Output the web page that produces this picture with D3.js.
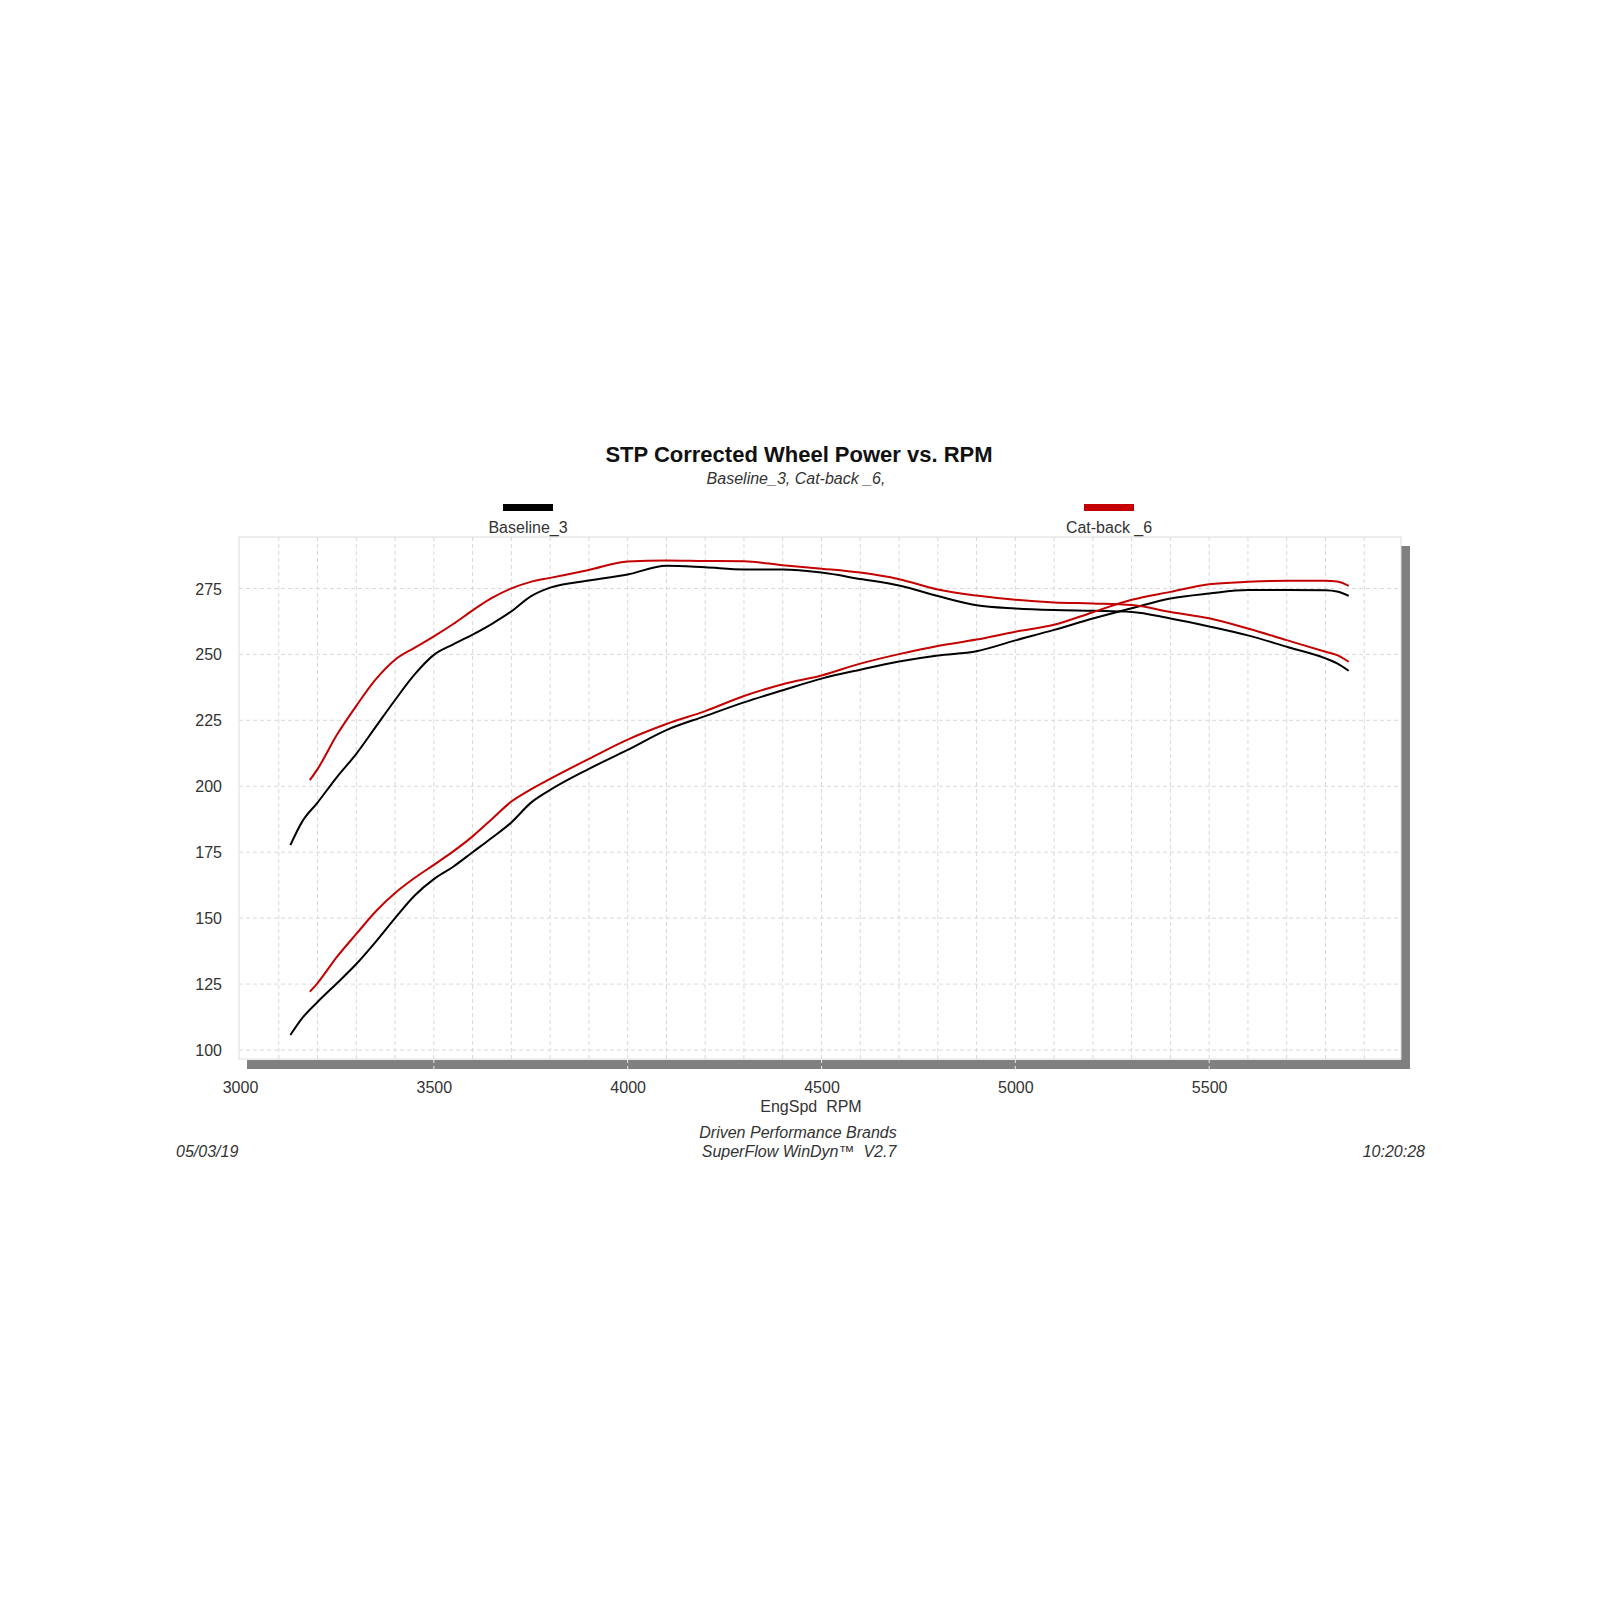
<!DOCTYPE html>
<head>
<meta charset="utf-8">
<style>
body { margin: 0; background: #fff; }
svg text { font-family: "Liberation Sans", Arial, sans-serif; fill: #333; }
.grid line { stroke: #d9d9d9; stroke-width: 1; stroke-dasharray: 4,3; }
.tick-label { font-size: 16px; }
</style>
</head>
<body>
<svg class="chart"></svg>
<script src="https://d3js.org/d3.v7.min.js"></script>
<script>

/* global d3 */

const runs = ['Baseline_3', 'Cat-back _6']
const runColors = ['#000000', '#c40000']

const baseRpm = [3130, 3160, 3200, 3250, 3300, 3350, 3400, 3450, 3500, 3550, 3600, 3650, 3700, 3750, 3800, 3900, 4000, 4100, 4200, 4300, 4400, 4500, 4600, 4700, 4800, 4900, 5000, 5100, 5200, 5300, 5400, 5500, 5600, 5700, 5800, 5830, 5860]
const baseTorque = [177.7, 186.5, 193.8, 203.5, 212.3, 222.5, 232.7, 242.3, 249.8, 253.8, 257.5, 261.6, 266.3, 272.0, 275.3, 278.0, 280.3, 283.6, 283.0, 282.2, 282.2, 281.0, 278.6, 276.1, 272.1, 268.6, 267.4, 266.8, 266.5, 266.1, 263.6, 260.6, 257.2, 252.9, 248.5, 246.6, 243.8]
const basePower = [105.7, 112.0, 118.2, 125.3, 132.6, 141.0, 150.0, 158.5, 164.8, 169.5, 175.0, 180.5, 186.3, 193.7, 198.6, 206.6, 213.8, 221.3, 226.6, 231.8, 236.4, 240.8, 244.2, 247.3, 249.6, 251.2, 255.3, 259.3, 263.6, 267.5, 271.2, 273.1, 274.4, 274.4, 274.3, 273.8, 272.2]

const catRpm = [3180, 3200, 3250, 3300, 3350, 3400, 3450, 3500, 3550, 3600, 3650, 3700, 3750, 3800, 3900, 4000, 4100, 4200, 4300, 4400, 4500, 4600, 4700, 4800, 4900, 5000, 5100, 5200, 5300, 5400, 5500, 5600, 5700, 5800, 5830, 5860]
const catTorque = [202.3, 206.5, 219.5, 230.5, 240.5, 248.0, 252.5, 256.8, 261.5, 266.7, 271.4, 275.0, 277.5, 279.0, 282.0, 285.2, 285.6, 285.4, 285.3, 283.8, 282.5, 281.0, 278.5, 274.6, 272.3, 270.7, 269.7, 269.3, 268.7, 266.1, 263.7, 259.8, 255.4, 251.0, 249.7, 247.2]
const catPower = [122.1, 125.4, 135.3, 144.0, 152.5, 159.5, 165.2, 170.2, 175.3, 181.0, 187.6, 194.2, 198.8, 202.8, 210.4, 217.7, 223.6, 228.5, 234.2, 238.7, 242.0, 246.5, 250.1, 253.2, 255.6, 258.6, 261.2, 266.0, 270.7, 273.7, 276.6, 277.5, 277.9, 277.9, 277.6, 276.0]

const xTicks = [3000, 3500, 4000, 4500, 5000, 5500]
const yTicks = [100, 125, 150, 175, 200, 225, 250, 275]

const plot = {left: 239, top: 537, right: 1401, bottom: 1059}

let chart = d3.select('svg')
  .attr('width', 1600)
  .attr('height', 1600)

const x = d3.scaleLinear().domain([3000, 6000]).range([240, 1403])
const y = d3.scaleLinear().domain([96.6, 294.5]).range([plot.bottom, plot.top])

// drop shadow on right and bottom
chart.append('rect')
  .attr('x', plot.right).attr('y', plot.top + 9)
  .attr('width', 9).attr('height', plot.bottom - plot.top + 1)
  .style('fill', '#808080')
chart.append('rect')
  .attr('x', plot.left + 8).attr('y', plot.bottom + 1)
  .attr('width', plot.right - plot.left + 1).attr('height', 9)
  .style('fill', '#808080')

chart.append('rect')
  .attr('x', plot.left).attr('y', plot.top)
  .attr('width', plot.right - plot.left).attr('height', plot.bottom - plot.top)
  .style('fill', '#fff')
  .style('stroke', '#dcdcdc')
  .style('stroke-width', 1)

let grid = chart.append('g').attr('class', 'grid')
grid.selectAll('line.v')
  .data(d3.range(3100, 6000, 100))
  .enter()
    .append('line')
      .attr('x1', d => x(d)).attr('x2', d => x(d))
      .attr('y1', plot.top).attr('y2', plot.bottom)
grid.selectAll('line.h')
  .data(yTicks)
  .enter()
    .append('line')
      .attr('x1', plot.left).attr('x2', plot.right)
      .attr('y1', d => y(d)).attr('y2', d => y(d))

// light marks through the shadow at labelled rpm
chart.append('g')
  .selectAll('line')
  .data(xTicks.slice(1))
  .enter()
    .append('line')
      .attr('x1', d => x(d)).attr('x2', d => x(d))
      .attr('y1', plot.bottom + 1).attr('y2', plot.bottom + 10)
      .style('stroke', '#e8e8e8')
      .style('stroke-dasharray', '3,3')

const xAxis = d3.axisBottom(x).tickValues(xTicks).tickFormat(d3.format('d')).tickSize(0).tickPadding(0)
chart.append('g')
  .attr('transform', `translate(0, ${plot.bottom + 34})`)
  .call(xAxis)
  .call(g => g.select('.domain').remove())
  .call(g => g.selectAll('text').attr('class', 'tick-label').attr('dy', 0).style('fill', '#333'))

const yAxis = d3.axisLeft(y).tickValues(yTicks).tickFormat(d3.format('d')).tickSize(0).tickPadding(0)
chart.append('g')
  .attr('transform', `translate(222, 0)`)
  .call(yAxis)
  .call(g => g.select('.domain').remove())
  .call(g => g.selectAll('text').attr('class', 'tick-label').attr('dy', '0.35em').style('fill', '#333'))

const series = [
  {rpm: baseRpm, values: baseTorque, run: 0},
  {rpm: baseRpm, values: basePower, run: 0},
  {rpm: catRpm, values: catTorque, run: 1},
  {rpm: catRpm, values: catPower, run: 1}
]

const line = d3.line()
  .x(d => x(d[0]))
  .y(d => y(d[1]))
  .curve(d3.curveMonotoneX)

chart.append('g')
  .selectAll('path')
  .data(series)
  .enter()
    .append('path')
      .attr('d', s => line(s.rpm.map((r, i) => [r, s.values[i]])))
      .style('fill', 'none')
      .style('stroke', s => runColors[s.run])
      .style('stroke-width', 2)

// legend
const legendX = [528, 1109]
let legend = chart.append('g')
  .selectAll('g')
  .data(runs)
  .enter()
    .append('g')
      .attr('transform', (d, i) => `translate(${legendX[i]}, 0)`)
legend.append('rect')
  .attr('x', -25).attr('y', 504)
  .attr('width', 50).attr('height', 7)
  .style('fill', (d, i) => runColors[i])
legend.append('text')
  .attr('y', 533)
  .style('font-size', '16px')
  .style('text-anchor', 'middle')
  .text(d => d)

chart.append('text')
  .attr('x', 799).attr('y', 462)
  .style('font-size', '22px')
  .style('font-weight', 'bold')
  .style('fill', '#111')
  .style('text-anchor', 'middle')
  .text('STP Corrected Wheel Power vs. RPM')

chart.append('text')
  .attr('x', 796).attr('y', 484)
  .style('font-size', '16px')
  .style('font-style', 'italic')
  .style('text-anchor', 'middle')
  .text(runs.join(', ') + ',')

chart.append('text')
  .attr('x', 811).attr('y', 1112)
  .style('font-size', '16px')
  .style('text-anchor', 'middle')
  .style('white-space', 'pre')
  .text('EngSpd  RPM')

const footer = [
  {text: 'Driven Performance Brands', x: 798, y: 1138, anchor: 'middle'},
  {text: 'SuperFlow WinDyn\u2122  V2.7', x: 799, y: 1157, anchor: 'middle'},
  {text: '05/03/19', x: 176, y: 1157, anchor: 'start'},
  {text: '10:20:28', x: 1425, y: 1157, anchor: 'end'}
]
chart.append('g')
  .selectAll('text')
  .data(footer)
  .enter()
    .append('text')
      .attr('x', d => d.x).attr('y', d => d.y)
      .style('font-size', '16px')
      .style('font-style', 'italic')
      .style('white-space', 'pre')
      .style('text-anchor', d => d.anchor)
      .text(d => d.text)

</script>
</body>
